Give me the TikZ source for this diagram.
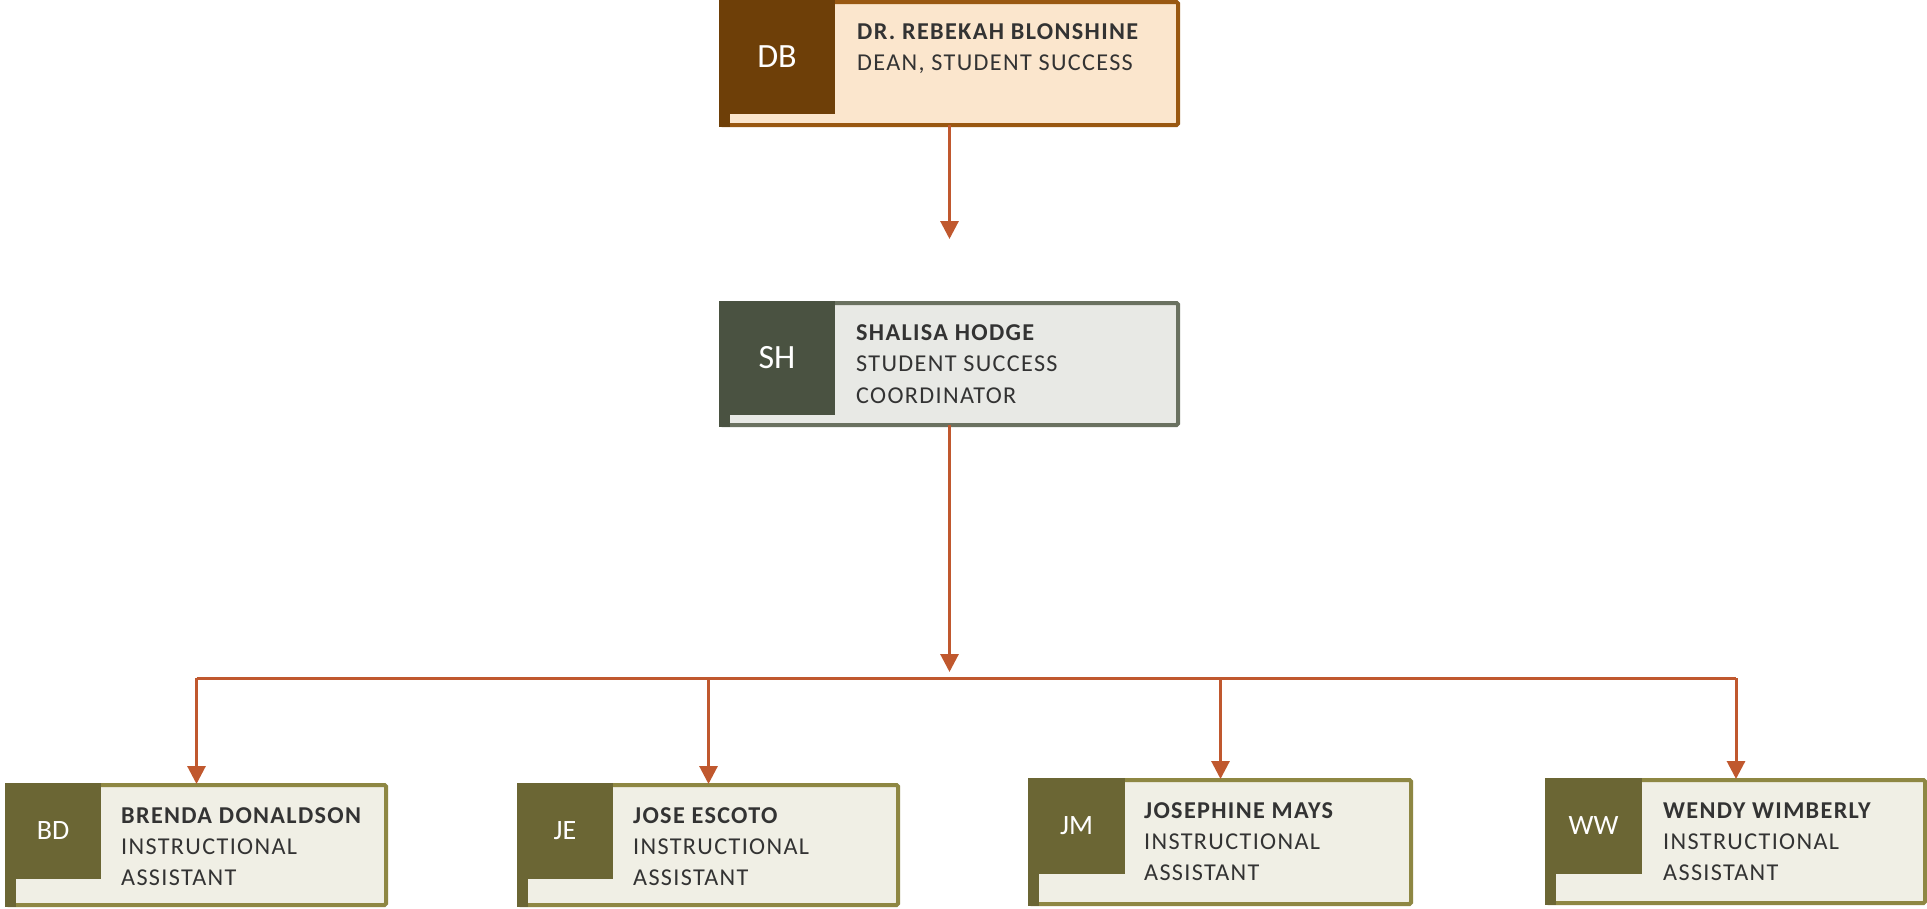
\documentclass[tikz,border=0pt]{standalone}
\usepackage{fontspec}
\setmainfont{Carlito}
\newfontfamily\cardfont[LetterSpace=5.5]{Carlito}
\usetikzlibrary{arrows.meta,calc}
\definecolor{conn}{HTML}{C0582E}
\definecolor{txt}{HTML}{333333}
\definecolor{dbborder}{HTML}{995811}
\definecolor{dbdark}{HTML}{6E3F08}
\definecolor{dblight}{HTML}{FBE6CD}
\definecolor{shborder}{HTML}{6A7160}
\definecolor{shdark}{HTML}{4A5241}
\definecolor{shlight}{HTML}{E8E9E5}
\definecolor{iaborder}{HTML}{8E8743}
\definecolor{iadark}{HTML}{6B6634}
\definecolor{ialight}{HTML}{F0EFE5}
\newcommand\orgcard[9]{%
  \node[frame, draw=#2border, fill=#2light, minimum width={#5-#3-4}, minimum height={#6-#4-4}] (#1) at (#3+2,#4+2) {};
  \fill[#2dark] (#3,#4) rectangle (#3+11,#6);
  \fill[#2dark] (#3,#4) rectangle (#3+#7,#4+#8);
  \node[#2ini] (#1-i) at (#3+#7/2,#4+#8/2) {#9};
}
\begin{document}
\begin{tikzpicture}[x=1pt,y=-1pt,
  frame/.style={line width=4pt, rounded corners=1.5pt, inner sep=0pt, outer sep=0pt, anchor=north west},
  dbini/.style={text=white, inner sep=0pt, font=\fontsize{34}{34}\selectfont},
  shini/.style={dbini},
  iaini/.style={text=white, inner sep=0pt, font=\fontsize{28}{28}\selectfont},
  nm/.style={anchor=base west, text=txt, inner sep=0pt, font=\cardfont\bfseries\fontsize{24.2}{25}\selectfont},
  ln/.style={anchor=base west, text=txt, inner sep=0pt, font=\cardfont\fontsize{24.2}{25}\selectfont},
  link/.style={draw=conn, line width=3pt, -{Triangle[width=18pt,length=18pt]}},
  bus/.style={draw=conn, line width=3pt}
]
\fill[white] (0,0) rectangle (1927,908);
\useasboundingbox (0,0) rectangle (1927,908);

\orgcard{db}{db}{719}{0}{1180}{127}{116}{114}{DB}
\node[nm] (db-n) at (857,39) {DR. REBEKAH BLONSHINE};
\node[ln] (db-t) at (857,70) {DEAN, STUDENT SUCCESS};

\orgcard{sh}{sh}{719}{301}{1180}{427}{116}{114}{SH}
\node[nm] (sh-n) at (856,340) {SHALISA HODGE};
\node[ln] (sh-t1) at (856,371) {STUDENT SUCCESS};
\node[ln] (sh-t2) at (856,403) {COORDINATOR};

\orgcard{bd}{ia}{5}{783}{388}{907}{96}{96}{BD}
\node[nm] (bd-n) at (121,823) {BRENDA DONALDSON};
\node[ln] (bd-t1) at (121,854) {INSTRUCTIONAL};
\node[ln] (bd-t2) at (121,885) {ASSISTANT};

\orgcard{je}{ia}{517}{783}{900}{907}{96}{96}{JE}
\node[nm] (je-n) at (633,823) {JOSE ESCOTO};
\node[ln] (je-t1) at (633,854) {INSTRUCTIONAL};
\node[ln] (je-t2) at (633,885) {ASSISTANT};

\orgcard{jm}{ia}{1028}{778}{1413}{906}{97}{96}{JM}
\node[nm] (jm-n) at (1144,818) {JOSEPHINE MAYS};
\node[ln] (jm-t1) at (1144,849) {INSTRUCTIONAL};
\node[ln] (jm-t2) at (1144,880) {ASSISTANT};

\orgcard{ww}{ia}{1545}{778}{1927}{905}{97}{96}{WW}
\node[nm] (ww-n) at (1663,818) {WENDY WIMBERLY};
\node[ln] (ww-t1) at (1663,849) {INSTRUCTIONAL};
\node[ln] (ww-t2) at (1663,880) {ASSISTANT};

\coordinate (t1) at (949,239);
\coordinate (t2) at (949,672);
\coordinate (busy) at (0,678);
\draw[link] (db.south) -- (db.south |- t1);
\draw[link] (sh.south) -- (sh.south |- t2);
\draw[bus] (bd.north |- busy) -- (ww.north |- busy);
\foreach \c in {bd,je,jm,ww}{
  \draw[link] (\c.north |- busy) -- ([yshift=1pt]\c.north);
}
\end{tikzpicture}
\end{document}
